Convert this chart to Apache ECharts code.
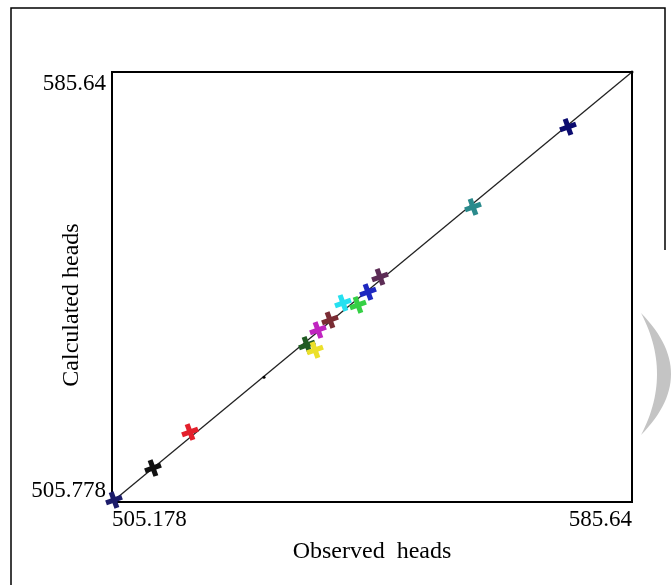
<!DOCTYPE html>
<html>
<head>
<meta charset="utf-8">
<script src="https://cdn.jsdelivr.net/npm/echarts@6/dist/echarts.min.js"></script>
<style>
  html, body { margin: 0; padding: 0; background: #fff; }
  #main { width: 672px; height: 585px; }
</style>
</head>
<body>
<div id="main"></div>
<script>
// axis ranges
var xMin = 505.178, xMax = 585.64;
var yMin = 505.778, yMax = 585.64;

// observed vs calculated heads, one entry per well
var obsHeads  = [505.49, 511.52, 517.25, 535.35, 536.59, 537.05, 538.91, 540.92, 543.24, 544.79, 546.65, 561.04, 575.74];
var calcHeads = [506.15, 512.09, 518.78, 534.94, 534.01, 537.72, 539.58, 542.74, 542.37, 544.78, 547.57, 560.57, 575.43];
var wellColors = ['#1c1c6a', '#111111', '#e3202c', '#1f5a22', '#ece02a', '#c025c0', '#7a2c34',
                  '#25e0f0', '#35d045', '#1e28c0', '#5c2c55', '#2a8a8c', '#0c0c70'];

// small dots on the 1:1 line
var dotObs  = [528.70, 585.64];
var dotCalc = [528.95, 585.64];

var plus = 'path://M3.5,0h3v3.5h3.5v3h-3.5v3.5h-3v-3.5h-3.5v-3h3.5z';

var pts = [];
for (var i = 0; i < obsHeads.length; i++) {
  pts.push({ value: [obsHeads[i], calcHeads[i]], itemStyle: { color: wellColors[i] } });
}
var dots = [];
for (var j = 0; j < dotObs.length; j++) dots.push([dotObs[j], dotCalc[j]]);

// grey crescent decoration at the right edge (two quadratic curves)
function quad(p0, c, p2, n) {
  var out = [];
  for (var k = 0; k <= n; k++) {
    var t = k / n, a = (1 - t) * (1 - t), b = 2 * (1 - t) * t, d = t * t;
    out.push([a * p0[0] + b * c[0] + d * p2[0], a * p0[1] + b * c[1] + d * p2[1]]);
  }
  return out;
}
var crescent = quad([641, 313], [701, 374], [641, 435], 30)
  .concat(quad([641, 435], [673, 374], [641, 313], 30));

var font = '"Liberation Serif", "DejaVu Serif", serif';

var chart = echarts.init(document.getElementById('main'));
chart.setOption({
  animation: false,
  backgroundColor: '#fff',
  grid: {
    left: 112, top: 72, width: 520, height: 430,
    outerBoundsMode: 'none', containLabel: false,
    show: true, borderColor: '#000', borderWidth: 2, backgroundColor: '#fff'
  },
  xAxis: {
    type: 'value', min: xMin, max: xMax, interval: xMax - xMin,
    name: 'Observed  heads', nameLocation: 'middle', nameGap: 38, nameMoveOverlap: false,
    nameTextStyle: { fontFamily: font, fontSize: 24, color: '#000' },
    axisLine: { show: false }, axisTick: { show: false }, splitLine: { show: false },
    axisLabel: {
      fontFamily: font, fontSize: 23, color: '#000', margin: 6,
      alignMinLabel: 'left', alignMaxLabel: 'right',
      formatter: function (v) { return v === xMin ? '505.178' : '585.64'; }
    }
  },
  yAxis: {
    type: 'value', min: yMin, max: yMax, interval: yMax - yMin,
    name: 'Calculated heads', nameLocation: 'middle', nameGap: 28, nameMoveOverlap: false,
    nameTextStyle: { fontFamily: font, fontSize: 24, color: '#000', padding: [0, 36, 0, 0] },
    axisLine: { show: false }, axisTick: { show: false }, splitLine: { show: false },
    axisLabel: {
      fontFamily: font, fontSize: 23, color: '#000', margin: 6,
      verticalAlignMaxLabel: 'top', verticalAlignMinLabel: 'bottom',
      formatter: function (v) { return v === yMin ? '505.778' : '585.64'; }
    }
  },
  series: [
    {
      type: 'line',
      data: [[xMin, yMin], [xMax, yMax]],
      symbol: 'none',
      lineStyle: { color: '#222', width: 1.3 },
      z: 1
    },
    {
      type: 'scatter',
      data: dots,
      symbol: 'circle', symbolSize: 3,
      itemStyle: { color: '#000', opacity: 1 },
      z: 2
    },
    {
      type: 'scatter',
      data: pts,
      symbol: plus, symbolSize: 17, symbolRotate: 20,
      itemStyle: { opacity: 1 },
      z: 3
    }
  ],
  graphic: [
    {
      type: 'polyline', silent: true,
      shape: { points: [[665, 250], [665, 8], [11, 8], [11, 590]] },
      style: { fill: 'none', stroke: '#000', lineWidth: 1.5 }
    },
    {
      type: 'polygon', silent: true,
      shape: { points: crescent },
      style: { fill: '#c4c4c4' }
    }
  ]
});
</script>
</body>
</html>
